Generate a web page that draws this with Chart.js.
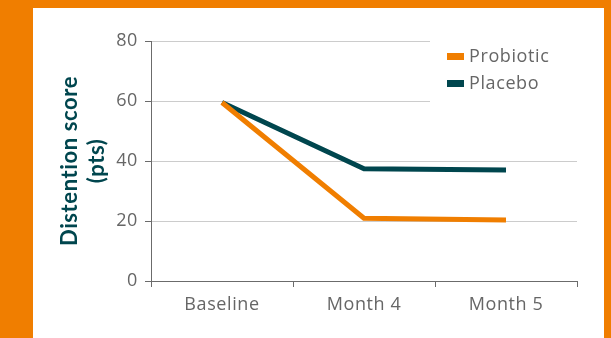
<!DOCTYPE html>
<html>
<head>
<meta charset="utf-8">
<script src="https://cdn.jsdelivr.net/npm/chart.js@4.4.1/dist/chart.umd.min.js"></script>
<style>
  html, body { margin: 0; padding: 0; }
  body { width: 611px; height: 338px; background: #F07E00; position: relative; overflow: hidden; }
  #panel { position: absolute; left: 33px; top: 8px; width: 571px; height: 330px; background: #fff; }
</style>
</head>
<body>
<div id="panel"><canvas id="distentionChart" width="571" height="330"></canvas></div>
<script>
const timepoints = ["Baseline", "Month 4", "Month 5"];
const probioticScores = [59.5, 20.9, 20.3];
const placeboScores = [59.5, 37.4, 37.0];
const yTicks = [0, 20, 40, 60, 80];

const orange = "#F07E00";
const teal = "#00464E";
const textGrey = "#666666";
const axisGrey = "#6b6b6b";

// slightly wider lettering, closer to the original typeface
const spacing = {
  id: "spacing",
  beforeDraw(chart) {
    chart.ctx.letterSpacing = "0.6px";
  }
};

// legend drawn inside the plot, over a white patch that hides the gridlines
const insideLegend = {
  id: "insideLegend",
  beforeDatasetsDraw(chart) {
    const ctx = chart.ctx;
    const area = chart.chartArea;
    ctx.save();
    ctx.fillStyle = "#ffffff";
    ctx.fillRect(area.right - 147, area.top - 6, 150, 72);
    ctx.font = "18px 'Open Sans'";
    ctx.textBaseline = "middle";
    chart.data.datasets.forEach((ds, i) => {
      const y = area.top + 16 + i * 27;
      ctx.fillStyle = ds.borderColor;
      ctx.fillRect(area.right - 130, y - 4, 17, 7);
      ctx.fillStyle = textGrey;
      ctx.fillText(ds.label, area.right - 108, y);
    });
    ctx.restore();
  }
};

new Chart(document.getElementById("distentionChart").getContext("2d"), {
  type: "line",
  data: {
    labels: timepoints,
    datasets: [
      {
        label: "Probiotic",
        data: probioticScores,
        borderColor: orange,
        backgroundColor: orange,
        borderWidth: 5,
        pointRadius: 0,
        tension: 0,
        fill: false
      },
      {
        label: "Placebo",
        data: placeboScores,
        borderColor: teal,
        backgroundColor: teal,
        borderWidth: 5,
        pointRadius: 0,
        tension: 0,
        fill: false
      }
    ]
  },
  options: {
    responsive: false,
    animation: false,
    devicePixelRatio: 1,
    layout: { padding: { left: 0, right: 27, top: 33, bottom: 0 } },
    plugins: {
      legend: { display: false },
      tooltip: { enabled: false }
    },
    scales: {
      x: {
        offset: true,
        grid: {
          offset: true,
          drawOnChartArea: false,
          drawTicks: true,
          tickLength: 6,
          tickColor: axisGrey
        },
        border: { color: axisGrey, width: 1 },
        ticks: { color: textGrey, padding: 7, font: { family: "'Open Sans'", size: 18 } },
        afterFit(scale) { scale.height = 57; }
      },
      y: {
        min: 0,
        max: 80,
        afterBuildTicks(scale) { scale.ticks = yTicks.map(v => ({ value: v })); },
        grid: {
          color: "#cccccc",
          lineWidth: 1,
          drawTicks: true,
          tickLength: 6,
          tickColor: axisGrey
        },
        border: { color: axisGrey, width: 1 },
        ticks: { color: textGrey, padding: 7, font: { family: "'Open Sans'", size: 18 } },
        title: {
          display: true,
          text: ["Distention score", "(pts)"],
          color: teal,
          font: { family: "Lato", size: 22, weight: "bold", lineHeight: 1.2 },
          padding: { top: 24, bottom: 0 }
        },
        afterFit(scale) { scale.width = 118; }
      }
    }
  },
  plugins: [spacing, insideLegend]
});
</script>
</body>
</html>
